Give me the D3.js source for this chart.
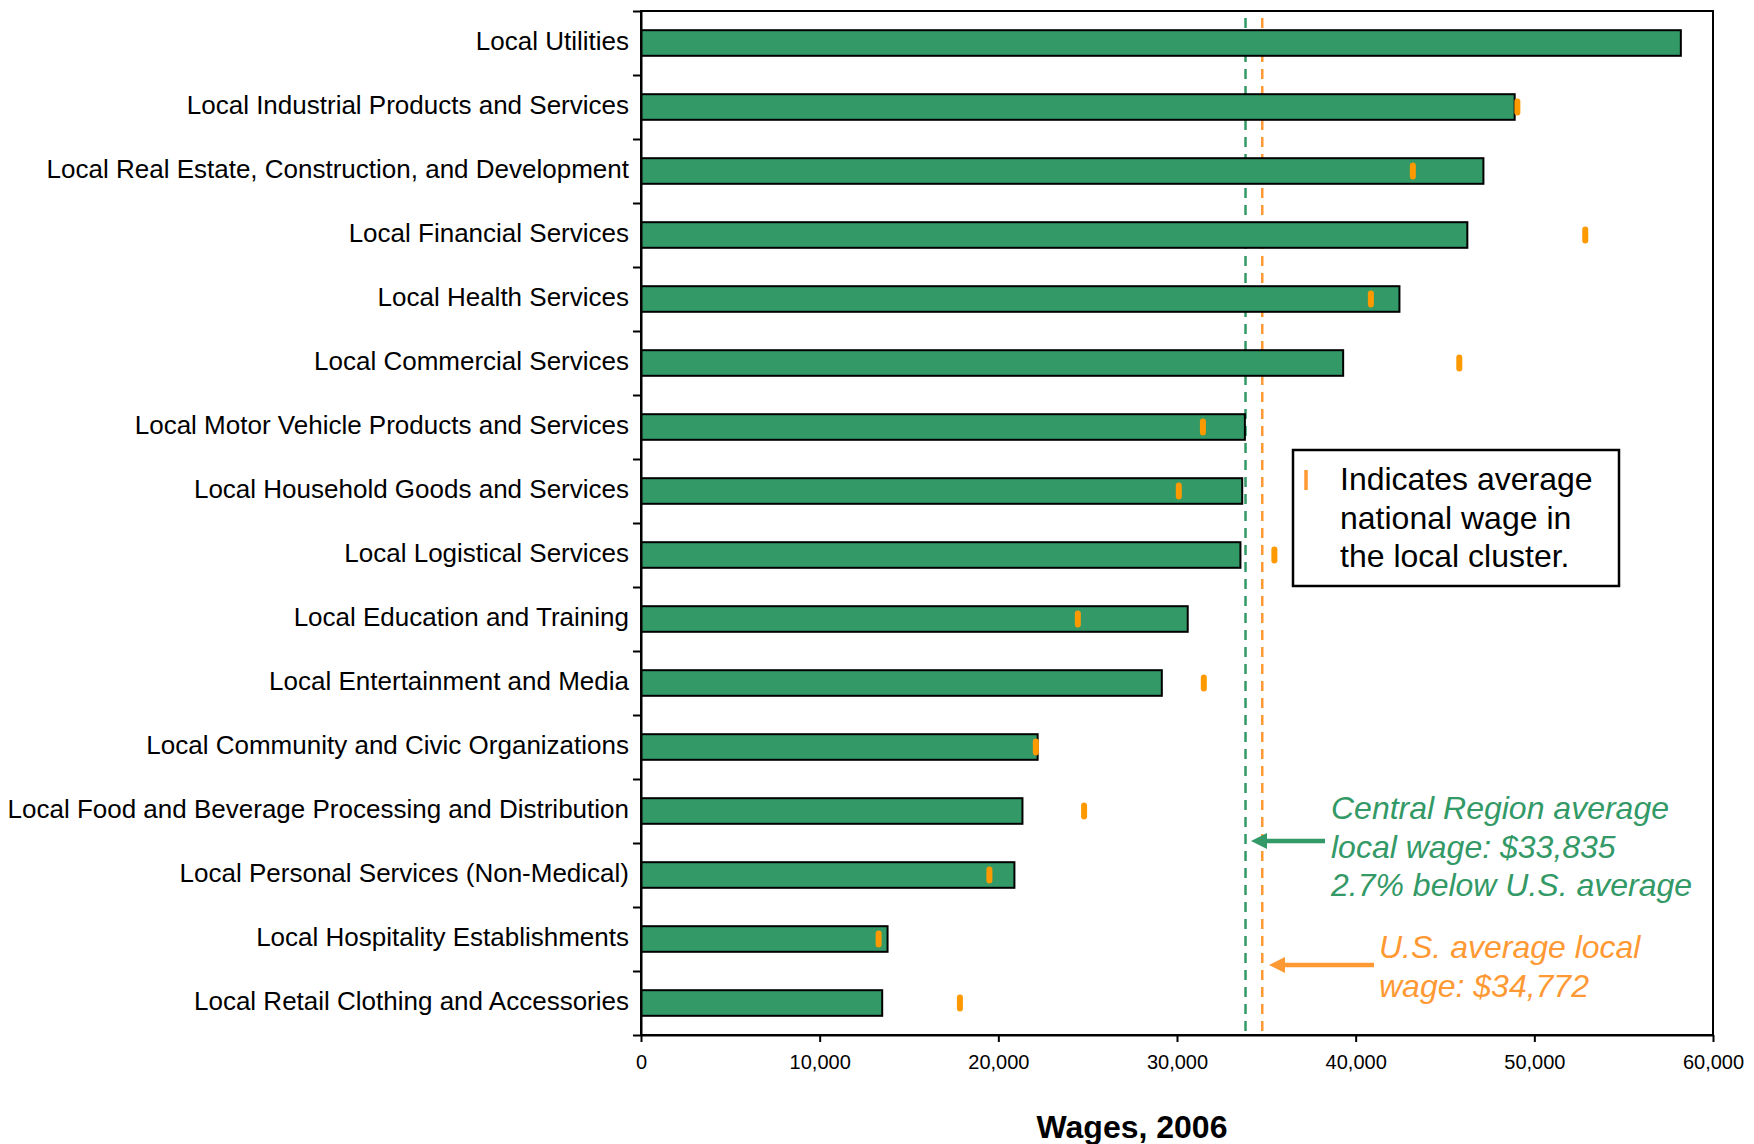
<!DOCTYPE html>
<html>
<head>
<meta charset="utf-8">
<script src="https://cdn.jsdelivr.net/npm/d3@7"></script>
<style>
  html, body { margin: 0; padding: 0; background: #fff; }
  svg { display: block; font-family: "Liberation Sans", Arial, sans-serif; }
</style>
</head>
<body>
<svg id="chart" width="1754" height="1144"></svg>
<script>
const categories = [
  "Local Utilities",
  "Local Industrial Products and Services",
  "Local Real Estate, Construction, and Development",
  "Local Financial Services",
  "Local Health Services",
  "Local Commercial Services",
  "Local Motor Vehicle Products and Services",
  "Local Household Goods and Services",
  "Local Logistical Services",
  "Local Education and Training",
  "Local Entertainment and Media",
  "Local Community and Civic Organizations",
  "Local Food and Beverage Processing and Distribution",
  "Local Personal Services (Non-Medical)",
  "Local Hospitality Establishments",
  "Local Retail Clothing and Accessories"
];
const regionWages = [58200, 48900, 47150, 46250, 42450, 39300, 33800, 33650, 33550, 30600, 29150, 22200, 21350, 20900, 13800, 13500];
// national wage per category (Local Utilities has no visible marker)
const nationalWages = [null, 49050, 43200, 52850, 40850, 45800, 31450, 30100, 35450, 24450, 31500, 22100, 24800, 19500, 13300, 17850];
const xTicks = [0, 10000, 20000, 30000, 40000, 50000, 60000];
const regionAvg = 33835;
const usAvg = 34772;
const xTitle = "Wages, 2006";
const legendLines = ["Indicates average", "national wage in", "the local cluster."];
const regionNote = ["Central Region average", "local wage: $33,835", "2.7% below U.S. average"];
const usNote = ["U.S. average local", "wage: $34,772"];

const GREEN = "#339966", ORANGE = "#FF9900", ORANGE_LINE = "#FF9933";
const pL = 641, pR = 1713, pT = 11, pB = 1035;

const svg = d3.select("#chart");
const x = d3.scaleLinear().domain([0, 60000]).range([pL, pR]);
const y = d3.scaleBand().domain(categories).range([pT, pB]).paddingInner(0.6).paddingOuter(0.3);
const yIdx = d3.scaleLinear().domain([0, categories.length]).range([pT, pB]);

// frame
svg.append("rect").attr("x", pL).attr("y", pT).attr("width", pR - pL).attr("height", pB - pT)
  .attr("fill", "none").attr("stroke", "#000").attr("stroke-width", 2);

// reference dashed lines
[[regionAvg, GREEN], [usAvg, ORANGE_LINE]].forEach(([v, c]) => {
  svg.append("line").attr("x1", x(v)).attr("x2", x(v)).attr("y1", 18).attr("y2", pB)
    .attr("stroke", c).attr("stroke-width", 2.5).attr("stroke-dasharray", "10,7");
});

// bars
svg.append("g").selectAll("rect").data(categories).join("rect")
  .attr("x", x(0)).attr("y", d => y(d))
  .attr("width", (d, i) => x(regionWages[i]) - x(0))
  .attr("height", y.bandwidth())
  .attr("fill", GREEN).attr("stroke", "#000").attr("stroke-width", 2);

// national markers
svg.append("g").selectAll("rect")
  .data(categories.map((c, i) => ({c, v: nationalWages[i]})).filter(d => d.v != null)).join("rect")
  .attr("x", d => x(d.v) - 3).attr("y", d => y(d.c) + y.bandwidth() / 2 - 8.5)
  .attr("width", 6).attr("height", 17).attr("rx", 3).attr("ry", 3)
  .attr("fill", ORANGE);

// y axis (ticks at band boundaries)
const yAxis = svg.append("g").attr("transform", `translate(${pL},0)`)
  .call(d3.axisLeft(yIdx).tickValues(d3.range(categories.length + 1)).tickFormat("").tickSize(8).tickSizeOuter(0));
yAxis.selectAll("path, line").attr("stroke", "#000").attr("stroke-width", 2);

// category labels
svg.append("g").selectAll("text").data(categories).join("text")
  .attr("x", 629).attr("y", d => y(d) + y.bandwidth() / 2)
  .attr("dy", "0.25em").attr("text-anchor", "end")
  .attr("font-size", 26).attr("fill", "#000").text(d => d);

// x axis
const xAxis = svg.append("g").attr("transform", `translate(0,${pB})`)
  .call(d3.axisBottom(x).tickValues(xTicks).tickFormat(d3.format(",")).tickSize(7).tickSizeOuter(0).tickPadding(13));
xAxis.selectAll("path, line").attr("stroke", "#000").attr("stroke-width", 2);
xAxis.selectAll("text").attr("font-size", 20).attr("fill", "#000")
  .attr("font-family", "'Liberation Sans Narrow', 'Liberation Sans', Arial, sans-serif");

// x title
svg.append("text").attr("x", 1132).attr("y", 1138).attr("text-anchor", "middle")
  .attr("font-size", 32).attr("font-weight", "bold").attr("fill", "#000").text(xTitle);

// legend box
svg.append("rect").attr("x", 1293).attr("y", 450).attr("width", 326).attr("height", 136)
  .attr("fill", "#fff").attr("stroke", "#000").attr("stroke-width", 2.5);
svg.append("line").attr("x1", 1306).attr("x2", 1306).attr("y1", 470).attr("y2", 490)
  .attr("stroke", ORANGE_LINE).attr("stroke-width", 3.5);
svg.append("g").selectAll("text").data(legendLines).join("text")
  .attr("x", 1340).attr("y", (d, i) => 490 + i * 38.6)
  .attr("font-size", 32).attr("fill", "#000").text(d => d);

// annotations
function arrow(x1, x2, yy, color) {
  svg.append("line").attr("x1", x1).attr("x2", x2 + 12).attr("y1", yy).attr("y2", yy)
    .attr("stroke", color).attr("stroke-width", 4.5);
  svg.append("path").attr("d", `M${x2},${yy} L${x2 + 16},${yy - 8} L${x2 + 16},${yy + 8} Z`).attr("fill", color);
}
arrow(1325, 1251, 841, GREEN);
arrow(1374, 1269, 965, ORANGE_LINE);

svg.append("g").selectAll("text").data(regionNote).join("text")
  .attr("x", 1331).attr("y", (d, i) => 819 + i * 38.6)
  .attr("font-size", 32).attr("font-style", "italic").attr("fill", GREEN).text(d => d);
svg.append("g").selectAll("text").data(usNote).join("text")
  .attr("x", 1379).attr("y", (d, i) => 958 + i * 38.6)
  .attr("font-size", 32).attr("font-style", "italic").attr("fill", ORANGE_LINE).text(d => d);
</script>
</body>
</html>
